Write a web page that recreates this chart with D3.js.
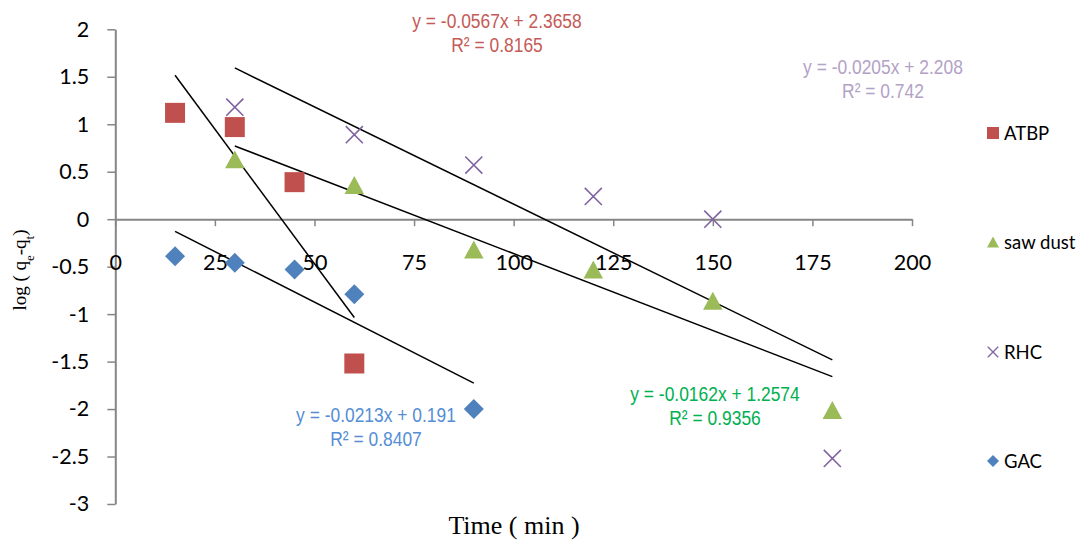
<!DOCTYPE html>
<html>
<head>
<meta charset="utf-8">
<script src="https://cdn.jsdelivr.net/npm/d3@7"></script>
<style>
  html, body { margin: 0; padding: 0; background: #fff; }
  svg { display: block; }
</style>
</head>
<body>
<svg id="chart" width="1082" height="540"></svg>
<script>
// Pseudo-first-order kinetics: log(qe - qt) against contact time for four adsorbents
const seriesNames = ["ATBP", "saw dust", "RHC", "GAC"];

const atbpTime = [15, 30, 45, 60];
const atbpLog  = [1.12, 0.97, 0.39, -1.52];

const sawTime = [30, 60, 90, 120, 150, 180];
const sawLog  = [0.63, 0.36, -0.32, -0.53, -0.86, -2.01];

const rhcTime = [30, 60, 90, 120, 150, 180];
const rhcLog  = [1.18, 0.89, 0.57, 0.24, 0.0, -2.52];

const gacTime = [15, 30, 45, 60, 90];
const gacLog  = [-0.39, -0.46, -0.53, -0.79, -2.0];

// Linear trendline fits (same order as seriesNames)
const trendSlope     = [-0.0567, -0.0162, -0.0205, -0.0213];
const trendIntercept = [2.3658, 1.2574, 2.208, 0.191];
const trendR2        = ["0.8165", "0.9356", "0.742", "0.8407"];

const xTicks = [0, 25, 50, 75, 100, 125, 150, 175, 200];
const yTicks = [-3, -2.5, -2, -1.5, -1, -0.5, 0, 0.5, 1, 1.5, 2];

// ---- styling / layout ----
const markerColor = ["#C0504D", "#9BBB59", "#8064A2", "#4F81BD"];
const labelColor  = ["#C55A57", "#00B050", "#B3A2C7", "#558ED5"];
const markerShape = ["square", "triangle", "cross", "diamond"];
// equation label anchor (pixel centre / baseline of first line) per series
const labelPos = [[497, 28], [715, 401], [883, 74], [376, 422]];
const legendY = [133, 242, 352, 461];

const svg = d3.select("#chart");
const x = d3.scaleLinear().domain([0, 200]).range([115.3, 912]);
const y = d3.scaleLinear().domain([-3, 2]).range([504, 29.3]);

const axisGrey = "#868686";
const tickFont = "Lato, 'Open Sans', sans-serif";

// Y axis
const yAxis = svg.append("g")
  .attr("transform", `translate(${x(0)},0)`)
  .call(d3.axisLeft(y).tickValues(yTicks).tickSize(8).tickSizeOuter(0).tickPadding(18)
        .tickFormat(d => String(d)));
// X axis crossing at zero
const xAxis = svg.append("g")
  .attr("transform", `translate(0,${y(0)})`)
  .call(d3.axisBottom(x).tickValues(xTicks).tickSize(7).tickSizeOuter(0).tickPadding(29)
        .tickFormat(d => String(d)));

[yAxis, xAxis].forEach(g => {
  g.select(".domain").attr("stroke", axisGrey).attr("stroke-width", 2);
  g.selectAll(".tick line").attr("stroke", axisGrey).attr("stroke-width", 1.5);
  g.selectAll(".tick text")
    .attr("fill", "#000")
    .style("font-family", tickFont)
    .style("font-size", "21.5px");
});

// Marker path generators, centred on (0,0)
function shapePath(kind, s) {
  const h = s / 2;
  if (kind === "square") return `M${-h},${-h}H${h}V${h}H${-h}Z`;
  if (kind === "diamond") return `M0,${-h}L${h},0L0,${h}L${-h},0Z`;
  if (kind === "triangle") {
    const th = s * 0.92 / 2;
    return `M0,${-th}L${h},${th}L${-h},${th}Z`;
  }
  // cross
  const c = h * 0.95;
  return `M${-c},${-c}L${c},${c}M${-c},${c}L${c},${-c}`;
}

function drawMarker(g, kind, color, s) {
  const p = g.append("path").attr("d", shapePath(kind, s));
  if (kind === "cross") {
    p.attr("fill", "none").attr("stroke", color).attr("stroke-width", 1.6);
  } else {
    p.attr("fill", color);
  }
  return p;
}

const seriesTime = [atbpTime, sawTime, rhcTime, gacTime];
const seriesLog  = [atbpLog, sawLog, rhcLog, gacLog];

// Trendlines (drawn under the markers)
const trendG = svg.append("g");
seriesNames.forEach((name, i) => {
  const [x0, x1] = d3.extent(seriesTime[i]);
  const f = t => trendSlope[i] * t + trendIntercept[i];
  trendG.append("line")
    .attr("x1", x(x0)).attr("y1", y(f(x0)))
    .attr("x2", x(x1)).attr("y2", y(f(x1)))
    .attr("stroke", "#000").attr("stroke-width", 1.5);
});

// Data markers
seriesNames.forEach((name, i) => {
  const g = svg.append("g");
  seriesTime[i].forEach((t, j) => {
    const m = g.append("g").attr("transform", `translate(${x(t)},${y(seriesLog[i][j])})`);
    const size = markerShape[i] === "cross" ? 18 : (markerShape[i] === "triangle" ? 19.5 : 20);
    drawMarker(m, markerShape[i], markerColor[i], size);
  });
});

// Trendline equations, set in a condensed face
const eqFont = "'Liberation Sans Narrow', 'Arial Narrow', 'Liberation Sans', sans-serif";
seriesNames.forEach((name, i) => {
  const [cx, cy] = labelPos[i];
  const t = svg.append("g")
    .attr("transform", `translate(${cx},${cy}) scale(0.83,1)`)
    .append("text")
    .attr("text-anchor", "middle")
    .attr("fill", labelColor[i])
    .style("font-family", eqFont)
    .style("font-size", "21px");
  t.append("tspan").attr("x", 0).attr("y", 0)
    .text(`y = ${trendSlope[i]}x + ${trendIntercept[i]}`);
  t.append("tspan").attr("x", 0).attr("y", 24.5)
    .text(`R² = ${trendR2[i]}`);
});

// Legend
seriesNames.forEach((name, i) => {
  const g = svg.append("g").attr("transform", `translate(993,${legendY[i]})`);
  const s = markerShape[i] === "cross" ? 11 : 12;
  drawMarker(g, markerShape[i], markerColor[i], s).attr("stroke-width", 1.3);
  g.append("text")
    .attr("x", 11).attr("y", 0).attr("dy", "0.36em")
    .style("font-family", tickFont)
    .style("font-size", "18.5px")
    .attr("fill", "#000")
    .text(name);
});

// Axis titles
const serif = "'Liberation Serif', 'Times New Roman', serif";
svg.append("text")
  .attr("x", 514).attr("y", 534)
  .attr("text-anchor", "middle")
  .style("font-family", serif)
  .style("font-size", "26px")
  .text("Time ( min )");

const yt = svg.append("text")
  .attr("transform", "translate(26,270) rotate(-90)")
  .attr("text-anchor", "middle")
  .style("font-family", serif)
  .style("font-size", "19px");
yt.append("tspan").text("log ( q");
yt.append("tspan").attr("baseline-shift", "sub").style("font-size", "13px").text("e");
yt.append("tspan").text("-q");
yt.append("tspan").attr("baseline-shift", "sub").style("font-size", "13px").text("t");
yt.append("tspan").text(")");
</script>
</body>
</html>
